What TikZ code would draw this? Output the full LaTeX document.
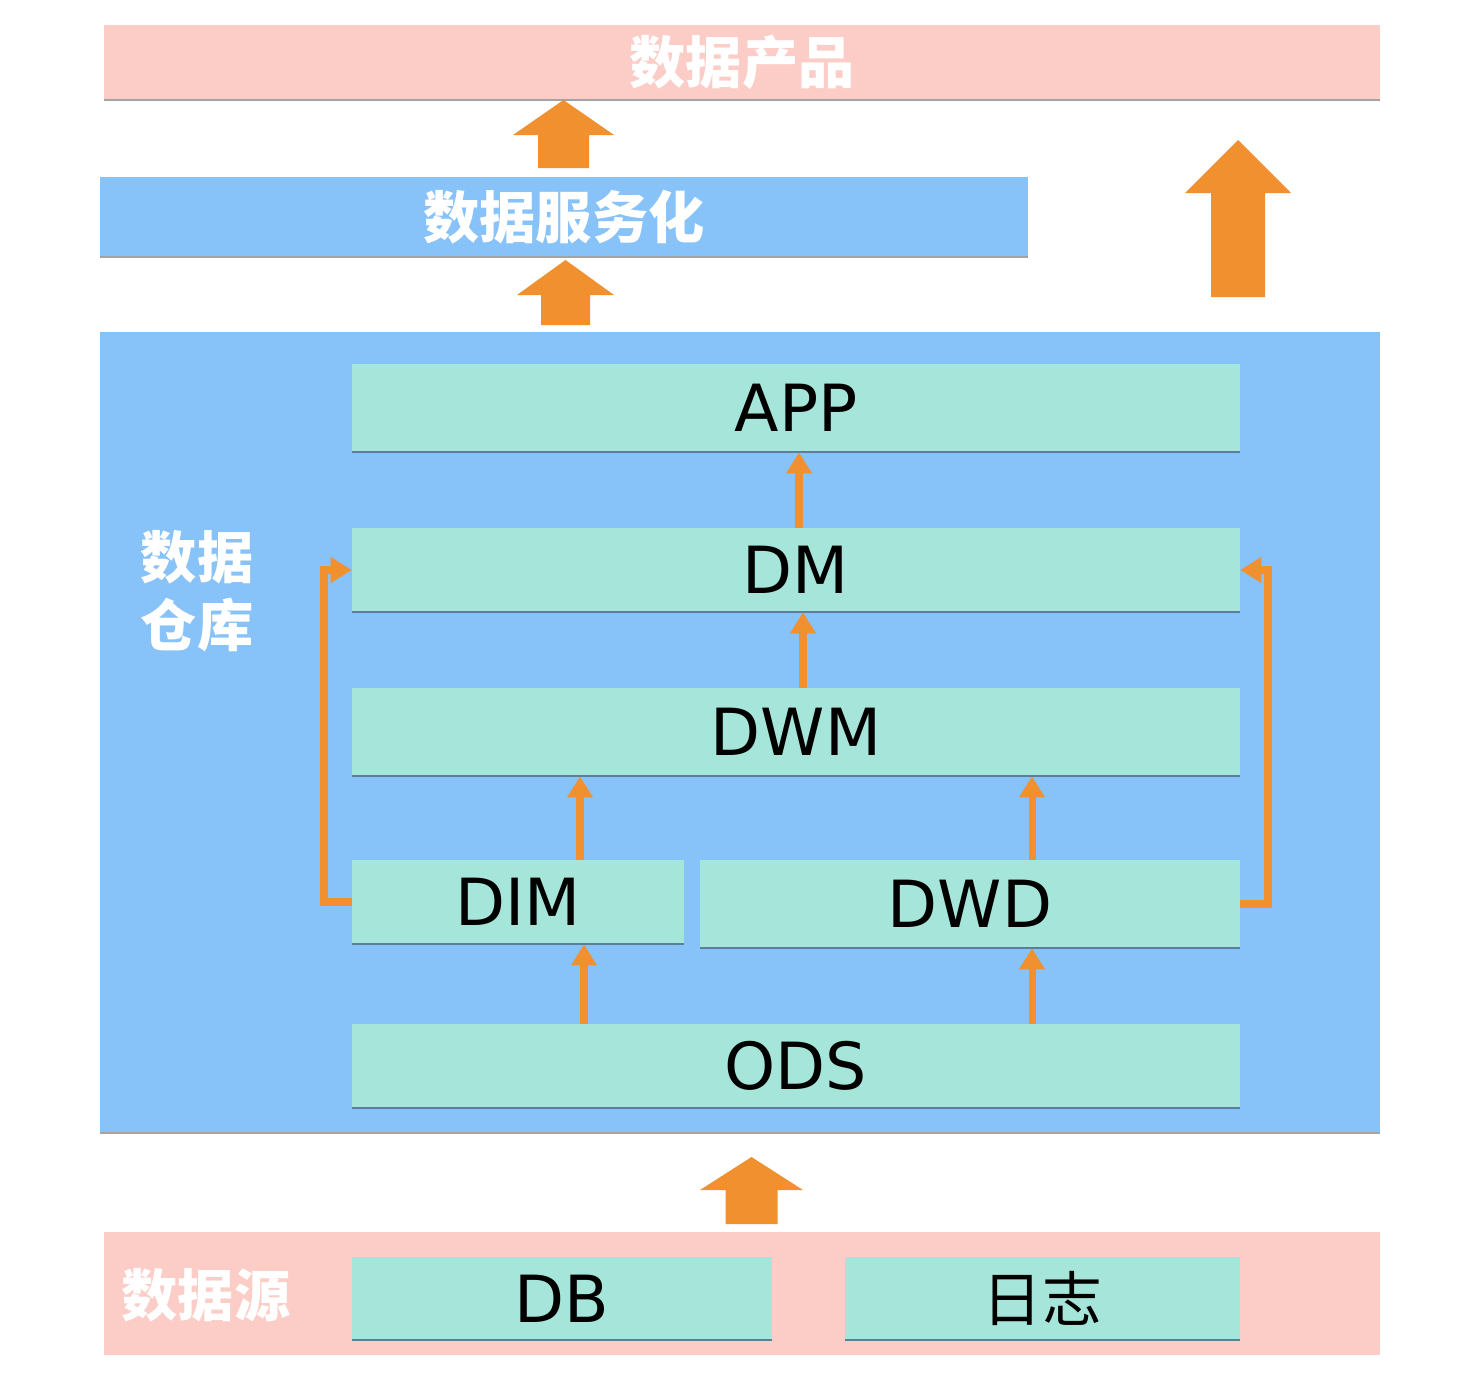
\documentclass[tikz,border=0pt]{standalone}
\usepackage{fontspec}
\setmainfont{DejaVu Sans}
\newfontfamily\cjk{Noto Sans CJK SC}
\usetikzlibrary{arrows.meta}

\definecolor{barpink}{HTML}{FBCDC6}
\definecolor{barblue}{HTML}{87C2F8}
\definecolor{layerteal}{HTML}{A6E5D9}
\definecolor{floworange}{HTML}{F0902F}
\definecolor{edgeblue}{HTML}{5D7E99}
\definecolor{edgegray}{HTML}{A3A3A3}

% block arrow: centre x, shaft half width, head half width, bottom, shoulder, tip
\newcommand{\bigup}[6]{%
  \fill[floworange] (#1-#2,#4) -- (#1-#2,#5) -- (#1-#3,#5) -- (#1,#6)
    -- (#1+#3,#5) -- (#1+#2,#5) -- (#1+#2,#4) -- cycle;}

\begin{document}
\begin{tikzpicture}[x=0.02cm,y=-0.02cm,
	bar/.style={fill=#1,inner sep=0pt,font=\cjk\bfseries\fontsize{32}{38}\selectfont,text=white},
	layer/.style={fill=layerteal,inner sep=0pt,font=\fontsize{37}{44}\selectfont},
	cjklabel/.style={text=white,align=center,font=\cjk\bfseries\fontsize{32}{38.5}\selectfont},
	flow/.style={draw=floworange,line width=4pt,-{Triangle[width=14pt,length=12pt]}},
	loopflow/.style={flow,line width=4.5pt},
	edge/.style={draw=edgeblue,line width=1.2pt},
	baredge/.style={draw=edgegray,line width=1.2pt}]
	\useasboundingbox[fill=white] (0,0) rectangle (1460,1380);
	
	% top bars
	\node[bar=barpink,minimum width=25.52cm,minimum height=1.5cm] (product) at (742,62.5) {数据产品};
	\node[bar=barblue,minimum width=18.56cm,minimum height=1.6cm] (service) at (564,217) {数据服务化};
	
	% warehouse
	\node[fill=barblue,inner sep=0pt,minimum width=25.6cm,minimum height=16.02cm] (warehouse) at (740,732.5) {};
	\node[cjklabel] (whlabel) at (197,591) {数据\\仓库};
	
	\node[layer,minimum width=17.76cm,minimum height=1.76cm] (app) at (796,408) {APP};
	\node[layer,minimum width=17.76cm,minimum height=1.68cm] (dm) at (796,570) {DM};
	\node[layer,minimum width=17.76cm,minimum height=1.76cm] (dwm) at (796,732) {DWM};
	\node[layer,minimum width=6.64cm,minimum height=1.68cm] (dim) at (518,902) {DIM};
	\node[layer,minimum width=10.8cm,minimum height=1.76cm] (dwd) at (970,904) {DWD};
	\node[layer,minimum width=17.76cm,minimum height=1.68cm] (ods) at (796,1066) {ODS};
	
	% sources
	\node[bar=barpink,minimum width=25.52cm,minimum height=2.46cm] (source) at (742,1293.5) {};
	\node[cjklabel] (srclabel) at (206,1295) {数据源};
	\node[layer,minimum width=8.4cm,minimum height=1.66cm] (db) at (562,1298.5) {DB};
	\node[layer,minimum width=7.9cm,minimum height=1.66cm,font=\cjk\fontsize{34}{40}\selectfont] (log) at (1042.5,1298.5) {日志};
	
	% bottom edges
	\foreach \n in {app,dm,dwm,dim,dwd,ods,db,log}
		\draw[edge] (\n.south west) -- (\n.south east);
	\foreach \n in {product,service,warehouse}
		\draw[baredge] (\n.south west) -- (\n.south east);
	
	% block arrows
	\bigup{563.5}{25.5}{50.5}{168}{135}{100}
	\bigup{565.5}{24.5}{48.5}{325}{295}{260}
	\bigup{1238}{27}{53}{297}{193}{140}
	\bigup{751.5}{26}{51.5}{1224}{1190}{1157}
	
	% flows inside the warehouse
	\draw[flow] (799,0 |- dm.north) -- (799,0 |- app.south);
	\draw[flow] (803,0 |- dwm.north) -- (803,0 |- dm.south);
	\draw[flow] (580,0 |- dim.north) -- (580,0 |- dwm.south);
	\draw[flow] (1032,0 |- dwd.north) -- (1032,0 |- dwm.south);
	\draw[flow] (584,0 |- ods.north) -- (584,0 |- dim.south);
	\draw[flow] (1032,0 |- ods.north) -- (1032,0 |- dwd.south);
	\draw[loopflow] (dim.west) -- ++(-28,0) |- (dm.west);
	\draw[loopflow] (dwd.east) -- ++(28,0) |- (dm.east);
\end{tikzpicture}
\end{document}
